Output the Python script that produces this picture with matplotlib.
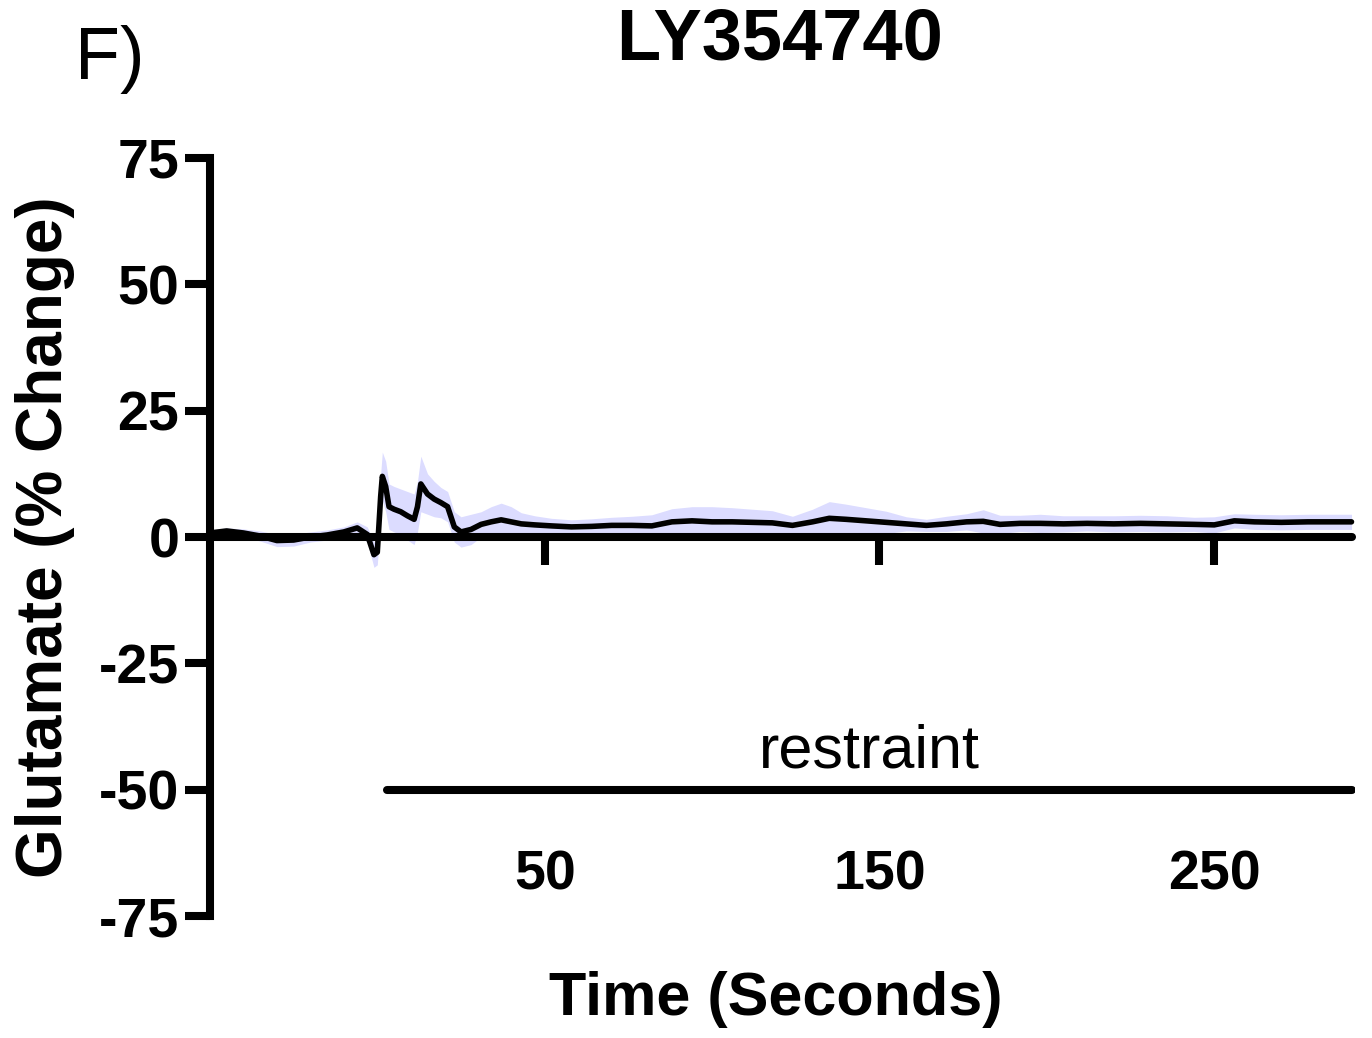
import matplotlib.pyplot as plt
import numpy as np

plt.rcParams['font.family'] = ['Liberation Sans', 'DejaVu Sans']

# Mean glutamate trace (% change) with SEM band, LY354740 group
time_s = [-50, -45, -40, -35, -30, -25, -20, -15, -10, -6, -3, -1, 0, 1, 1.5,
          2.5, 3.5, 5, 7, 9, 11, 12, 13, 15, 17, 19, 21, 22, 23, 25, 28, 31,
          34, 37, 40, 43, 47, 52, 58, 64, 70, 76, 82, 88, 94, 100, 106, 112,
          118, 124, 130, 135, 140, 146, 152, 158, 164, 170, 176, 181, 186,
          192, 198, 205, 212, 220, 228, 236, 244, 250, 256, 262, 270, 278,
          285, 291]
glu_mean = [0.8, 1.2, 0.8, 0.2, -0.7, -0.6, 0.0, 0.4, 1.0, 1.8, 0.5, -3.5,
            -3.0, 8.0, 12.0, 10.0, 6.0, 5.5, 5.0, 4.2, 3.5, 6.0, 10.5, 8.5,
            7.5, 6.8, 6.0, 4.0, 2.0, 1.0, 1.5, 2.5, 3.0, 3.4, 3.0, 2.6, 2.4,
            2.2, 2.0, 2.1, 2.3, 2.3, 2.2, 3.0, 3.2, 3.0, 3.0, 2.9, 2.8, 2.3,
            3.0, 3.7, 3.5, 3.2, 2.9, 2.6, 2.3, 2.6, 3.0, 3.1, 2.5, 2.7, 2.7,
            2.6, 2.7, 2.6, 2.7, 2.6, 2.5, 2.4, 3.2, 3.0, 2.9, 3.0, 3.0, 3.0]
glu_sem = [0.6, 0.6, 0.8, 1.0, 1.2, 1.2, 1.0, 1.0, 1.0, 1.2, 1.5, 2.5, 2.5,
           4.5, 4.8, 5.0, 4.5, 4.5, 4.5, 4.8, 5.0, 5.0, 5.5, 4.0, 3.5, 3.0,
           3.0, 3.0, 3.0, 3.0, 3.0, 2.5, 3.0, 3.3, 3.0, 2.2, 1.8, 1.5, 1.4,
           1.5, 1.6, 1.8, 2.2, 2.6, 2.8, 3.0, 2.8, 2.6, 2.4, 1.8, 2.5, 3.3,
           3.0, 2.6, 2.2, 1.4, 1.2, 1.5, 1.6, 2.3, 1.8, 1.6, 1.8, 1.6, 1.5,
           1.6, 1.6, 1.6, 1.4, 1.6, 1.4, 1.5, 1.5, 1.5, 1.5, 1.5]

restraint_span = [3, 291]
restraint_level = -50

x_ticks = [50, 150, 250]
y_ticks = [-75, -50, -25, 0, 25, 50, 75]

t = np.array(time_s)
m = np.array(glu_mean)
s = np.array(glu_sem)

fig = plt.figure(figsize=(13.72, 10.38), dpi=100)
ax = fig.add_axes([0.153, 0.1175, 0.8345, 0.7303])

ax.fill_between(t, m - s, m + s, color='#dcdcff', lw=0, zorder=1)
ax.plot(t, m, color='black', lw=4, solid_capstyle='round',
        solid_joinstyle='round', zorder=3)

# restraint bar
ax.plot(restraint_span, [restraint_level] * 2, color='black', lw=5.8,
        solid_capstyle='round', zorder=3)
ax.text(147, -45.7, 'restraint', fontsize=44, ha='center', va='baseline')

ax.set_xlim(-50, 292)
ax.set_ylim(-75, 75)

for side in ['top', 'right']:
    ax.spines[side].set_visible(False)
ax.spines['left'].set_linewidth(5.8)
ax.spines['left'].set_bounds(-75, 75)
ax.spines['bottom'].set_position(('data', 0))
ax.spines['bottom'].set_linewidth(5.8)
ax.spines['bottom'].set_bounds(-50, 291)
ax.spines['bottom'].set_capstyle('round')
ax.spines['bottom'].set_zorder(4)

ax.set_yticks(y_ticks)
ax.set_yticklabels([str(v) for v in y_ticks])
ax.set_xticks(x_ticks)
ax.set_xticklabels([str(v) for v in x_ticks])
ax.tick_params(axis='y', direction='out', length=18, width=5.8, pad=4,
               labelsize=40)
ax.tick_params(axis='x', direction='out', length=20, width=5.8, pad=205,
               labelsize=40)
for lab in ax.get_xticklabels() + ax.get_yticklabels():
    lab.set_fontweight('bold')

fig.text(45 / 1372, 1 - 537 / 1038, 'Glutamate (% Change)', rotation=90,
         fontsize=46, fontweight='bold', ha='center', va='center')
fig.text(776 / 1372, 1 - 1000 / 1038, 'Time (Seconds)', fontsize=44,
         fontweight='bold', ha='center', va='center')
fig.text(780 / 1372, 1 - 40 / 1038, 'LY354740', fontsize=52,
         fontweight='bold', ha='center', va='center')
fig.text(75 / 1372, 1 - 60 / 1038, 'F)', fontsize=53, ha='left',
         va='center')

fig.savefig('out.png', dpi=100)
